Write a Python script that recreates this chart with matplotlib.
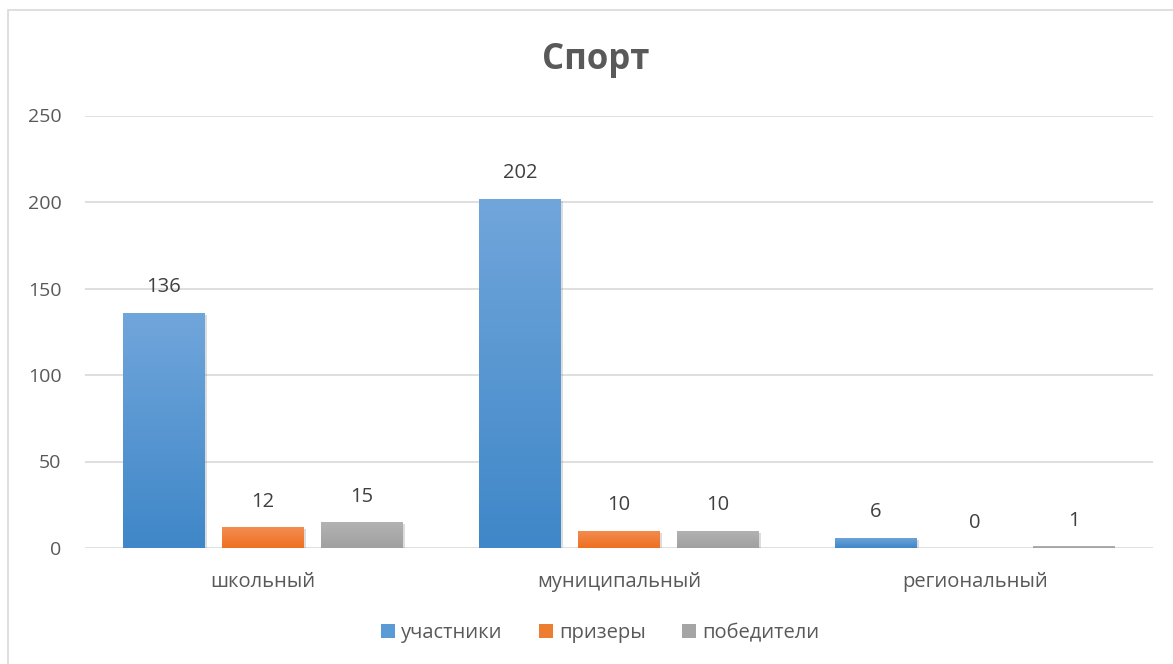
import numpy as np
import matplotlib
matplotlib.use('Agg')
import matplotlib.pyplot as plt
import matplotlib.patheffects as pe
from matplotlib.patches import Patch, Rectangle
from matplotlib.colors import LinearSegmentedColormap

plt.rcParams['font.family'] = ['Open Sans', 'DejaVu Sans']

# data
categories = ['школьный', 'муниципальный', 'региональный']
series_names = ['участники', 'призеры', 'победители']
participants = [136, 202, 6]
prizewinners = [12, 10, 0]
winners = [15, 10, 1]
series_values = [participants, prizewinners, winners]

title = 'Спорт'
y_ticks = [0, 50, 100, 150, 200, 250]

# colours: (top, bottom) of gradient
grads = [('#71A6DB', '#3F87C8'), ('#F38D52', '#EE7020'), ('#B3B3B3', '#A0A0A0')]
legend_colors = ['#5B9BD5', '#ED7D31', '#A5A5A5']

fig = plt.figure(figsize=(11.73, 6.64), dpi=100)
ax = fig.add_axes([85 / 1173, 116 / 664, 1068 / 1173, 432.5 / 664])

# outer chart border
fig.patches.append(Rectangle((8 / 1173, -0.05), 1.1, (654 / 664) + 0.05,
                             transform=fig.transFigure, fill=False,
                             edgecolor='#D9D9D9', linewidth=1.2))

x = np.arange(len(categories))
width = 0.23
step = 0.278

for i, vals in enumerate(series_values):
    bars = ax.bar(x + (i - 1) * step, vals, width, color=legend_colors[i], zorder=2,
                  path_effects=[pe.SimplePatchShadow(offset=(1.5, -1.5), shadow_rgbFace='#909090', alpha=0.3),
                                pe.Normal()])
    cmap = LinearSegmentedColormap.from_list('g%d' % i, [grads[i][1], grads[i][0]])
    grad = np.linspace(0, 1, 256).reshape(-1, 1)
    for b in bars:
        h = b.get_height()
        if h <= 0:
            continue
        im = ax.imshow(grad, cmap=cmap, origin='lower', aspect='auto',
                       extent=[b.get_x(), b.get_x() + b.get_width(), 0, h], zorder=3)
        im.set_clip_path(b)
    ax.bar_label(bars, labels=[str(v) for v in vals], padding=11, fontsize=14.5, color='#404040')

ax.set_xlim(-0.5, 2.5)
ax.set_ylim(0, 250)
ax.set_yticks(y_ticks)
ax.set_xticks(x)
ax.set_xticklabels(categories)
ax.tick_params(axis='both', length=0, labelsize=14, colors='#595959')
ax.tick_params(axis='y', pad=17)
ax.tick_params(axis='x', pad=17, labelsize=14.5)
ax.grid(axis='y', color='#D9D9D9', linewidth=1.2, zorder=0)
ax.set_axisbelow(True)
for s in ax.spines.values():
    s.set_visible(False)

fig.text(596 / 1173, 604 / 664, title, ha='center', va='center', fontsize=25,
         fontweight='bold', color='#595959')

handles = [Patch(facecolor=c, edgecolor='none') for c in legend_colors]
fig.legend(handles, series_names, loc='center', bbox_to_anchor=(600 / 1173, 31 / 664), ncol=3,
           frameon=False, fontsize=14.5, labelcolor='#595959', handlelength=0.7, handleheight=0.7,
           handletextpad=0.3, columnspacing=1.8)

fig.savefig('out.png', dpi=100)
